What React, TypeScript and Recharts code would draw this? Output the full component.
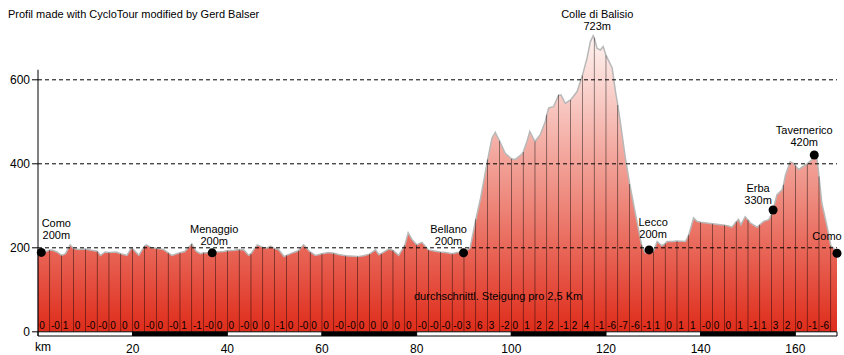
import React from 'react';
import { Area, Bar, ComposedChart, LabelList, ReferenceArea, ReferenceLine, Scatter, XAxis, YAxis } from 'recharts';

// [km, elevation m], every 2.5 km boundary included
const profilePoints: [number, number][] = [
  [0, 191], [0.7, 189], [1.5, 190], [2.5, 195], [3.1, 194], [4, 190], [5, 182], [5.8, 186], [6.8, 207], [7.5, 198],
  [8.6, 196], [10, 197], [11, 195], [12.5, 192], [13.2, 182], [14.2, 190], [15, 189], [16.5, 190], [17.5, 186], [18.8, 182],
  [19.7, 199], [20, 198], [21.3, 182], [22.5, 204], [22.9, 207], [24, 200], [25, 199], [26.5, 196], [27.5, 188], [28.3, 182],
  [29.3, 186], [30, 188], [31, 191], [32.5, 209], [33.4, 192], [34.3, 186], [35, 188], [36.8, 188], [37.5, 190], [39.2, 191],
  [40, 193], [41.5, 194], [42.5, 196], [43.5, 195], [44.5, 182], [45, 186], [46.3, 207], [47.5, 201], [48.3, 199], [49.1, 204],
  [50, 198], [50.8, 196], [52, 179], [52.5, 182], [54, 189], [55, 193], [56.1, 207], [57.5, 190], [58.6, 182], [60, 186],
  [61.4, 189], [62.5, 187], [63.5, 184], [65, 181], [67.5, 179], [68.8, 181], [70, 185], [71.3, 195], [72, 184], [72.5, 186],
  [74.1, 197], [75, 194], [76.2, 182], [77.5, 206], [78.2, 236], [79, 220], [80, 207], [81.1, 213], [82.5, 195], [84, 192],
  [85, 190], [86.1, 189], [87.5, 186], [88.5, 189], [90, 189], [91.3, 200], [92.5, 268], [93.5, 318], [95, 410], [95.9, 461],
  [96.6, 475], [97.5, 455], [98.7, 425], [100, 412], [100.8, 410], [102.3, 424], [102.5, 428], [103.3, 453], [103.9, 477], [105, 453],
  [106.1, 469], [107.2, 501], [107.5, 517], [107.9, 533], [108.9, 536], [110, 564], [110.5, 564], [111.4, 544], [112.5, 552], [113.9, 572],
  [115, 610], [116, 652], [116.7, 691], [117.3, 705], [117.5, 700], [118.1, 675], [118.8, 671], [119.4, 679], [120, 658], [121.3, 628],
  [122, 572], [122.5, 540], [123, 501], [124.1, 413], [125, 352], [126.2, 282], [127.5, 207], [128.3, 188], [129.1, 195], [130, 191],
  [130.8, 215], [131.8, 205], [132.5, 210], [132.9, 215], [134, 215], [135, 216], [136.8, 215], [137.5, 231], [138.5, 271], [139.2, 263],
  [140, 261], [142, 258], [142.5, 257], [144.2, 255], [145, 254], [145.9, 252], [146.6, 249], [147.5, 262], [148, 268], [148.5, 255],
  [149.4, 274], [150, 266], [150.5, 259], [151.9, 249], [152.5, 255], [153.3, 263], [154.4, 267], [155, 280], [155.3, 290], [156.1, 326],
  [157.2, 338], [157.5, 350], [157.9, 373], [158.9, 405], [159.6, 401], [160, 396], [160.7, 386], [161.4, 392], [162.5, 400], [163.5, 410],
  [164, 421], [164.6, 410], [165, 370], [165.6, 306], [166.7, 251], [167.5, 205], [168.1, 199], [168.8, 187],
];

// average gradient per 2.5 km segment
const gradeLabels = [
  '0', '-0', '1', '0', '-0', '-0', '0', '0', '0', '-0', '0', '-0', '1', '-1', '-0', '0', '0', '-0', '0', '0', '-1', '0',
  '-0', '0', '0', '-0', '-0', '0', '0', '0', '0', '0', '-0', '-0', '-0', '-0', '3', '6', '3', '-2', '0', '1', '2', '2', '-1',
  '2', '4', '-1', '-6', '-7', '-6', '-1', '1', '0', '1', '1', '-0', '0', '0', '1', '-1', '1', '3', '2', '0', '-1', '-6', '',
];

const placeNames = ['Como', 'Menaggio', 'Bellano', 'Colle di Balisio', 'Lecco', 'Erba', 'Tavernerico', 'Como'];
const placeKm = [0.7, 36.8, 89.9, 117.3, 129.1, 155.3, 164, 168.8];
const placeElev = [189, 188, 188, 705, 195, 290, 421, 187];
const placeHeights = ['200m', '200m', '200m', '723m', '200m', '330m', '420m', ''];
const placeHasDot = [true, true, true, false, true, true, true, true];

const totalKm = 168.8;
const kmTicks = [20, 40, 60, 80, 100, 120, 140, 160];
const elevTicks = [0, 200, 400, 600];
const gridLevels = [200, 400, 600];

const profile = profilePoints.map(([km, elev]) => ({ km, elev }));
const posts = gradeLabels.map((grade, i) => {
  const km = i * 2.5;
  const row = profilePoints.find((p) => Math.abs(p[0] - km) < 0.01);
  return { km, post: row ? row[1] : undefined, grade };
});
const places = placeNames.map((name, i) => ({
  name, km: placeKm[i], elev: placeElev[i], height: placeHeights[i], dot: placeHasDot[i], idx: i,
}));
const bandEdges = [0, ...kmTicks, totalKm];

// label offsets from the marker: [dx, dy of the lower line centre]
const labelShift: [number, number][] = [[15, -17], [2, -12], [-15, -12], [4, -10], [4, -16], [-15, -10], [-10, -13], [-10, -17]];

const PlaceMarker = (props: any) => {
  const { cx, cy, payload } = props;
  const [dx, dy] = labelShift[payload.idx];
  const base = cy + dy + 4;
  return (
    <g>
      {payload.dot && <circle cx={cx} cy={cy} r={4.5} fill="#000" />}
      {payload.height ? (
        <>
          <text x={cx + dx} y={base - 12} textAnchor="middle" fontSize={11} fill="#000">{payload.name}</text>
          <text x={cx + dx} y={base} textAnchor="middle" fontSize={11} fill="#000">{payload.height}</text>
        </>
      ) : (
        <text x={cx + dx} y={base} textAnchor="middle" fontSize={11} fill="#000">{payload.name}</text>
      )}
    </g>
  );
};

const GradeLabel = (props: any) => {
  const { x, y, width, height, value } = props;
  if (!value) return null;
  return (
    <text x={x + width + 1} y={y + height - 3} fontSize={10} fill="#000">{value}</text>
  );
};

export default function App() {
  return (
    <div style={{ position: 'absolute', left: 0, top: 0, width: 844, height: 355, fontFamily: '"Liberation Sans", Arial, sans-serif', background: '#fff' }}>
      <ComposedChart width={844} height={355} data={posts} margin={{ top: 0, right: 7, bottom: 0, left: 0 }}>
        <defs>
          <linearGradient id="profileFill" x1="0" y1="0" x2="0" y2="1">
            <stop offset="0%" stopColor="#fff4f2" />
            <stop offset="55%" stopColor="#ee8a7e" />
            <stop offset="100%" stopColor="#df2c1a" />
          </linearGradient>
        </defs>
        <XAxis dataKey="km" type="number" domain={[0, totalKm]} ticks={kmTicks} axisLine={false} tickLine={false}
          height={19} tick={{ fill: '#000', fontSize: 12 }} />
        <YAxis type="number" domain={[-10, 790]} ticks={elevTicks} width={38} axisLine={false}
          tickSize={6} tickLine={{ stroke: '#000' }} tick={{ fill: '#000', fontSize: 12 }} />
        <Area data={profile} dataKey="elev" type="linear" stroke="#b8b8b8" strokeWidth={1.5} fill="url(#profileFill)"
          fillOpacity={1} dot={false} activeDot={false} isAnimationActive={false} />
        <Bar dataKey="post" fill="#000" barSize={2} isAnimationActive={false}>
          <LabelList dataKey="grade" content={GradeLabel} />
        </Bar>
        {gridLevels.map((lv) => (
          <ReferenceLine key={lv} y={lv} stroke="#000" strokeDasharray="4 3" />
        ))}
        <ReferenceLine segment={[{ x: 0, y: -10 }, { x: 0, y: 624 }]} stroke="#000" />
        {bandEdges.slice(0, -1).map((x1, i) => (
          <ReferenceArea key={x1} x1={x1} x2={bandEdges[i + 1]} y1={-10} y2={0} fill={i % 2 ? '#000' : '#fff'}
            fillOpacity={1} stroke="#000" strokeWidth={1} />
        ))}
        <Scatter data={places} dataKey="elev" shape={PlaceMarker} isAnimationActive={false} />
      </ComposedChart>
      <div style={{ position: 'absolute', left: 8, top: 8, fontSize: 11, lineHeight: '13px', whiteSpace: 'nowrap' }}>
        Profil made with CycloTour modified by Gerd Balser
      </div>
      <div style={{ position: 'absolute', left: 414, top: 290, fontSize: 11, lineHeight: '13px', whiteSpace: 'nowrap' }}>
        durchschnittl. Steigung pro 2,5 Km
      </div>
      <div style={{ position: 'absolute', left: 35, top: 340, fontSize: 12, lineHeight: '14px' }}>km</div>
    </div>
  );
}
